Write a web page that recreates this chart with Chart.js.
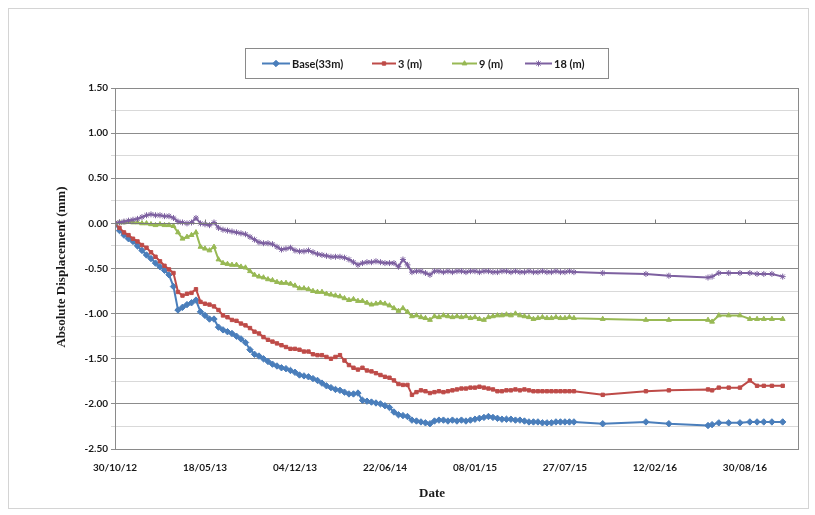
<!DOCTYPE html>
<html>
<head>
<meta charset="utf-8">
<script src="https://cdn.jsdelivr.net/npm/chart.js@4.4.1/dist/chart.umd.min.js"></script>
<style>
  html, body { margin: 0; padding: 0; background: #ffffff; }
  #wrap { position: relative; width: 815px; height: 515px; }
</style>
</head>
<body>
<div id="wrap"><canvas id="chart"></canvas></div>
<script>
// Survey start date; x positions are days elapsed since this date
const startDate = Date.UTC(2012, 9, 30);

// Reading days (offset from the start date)
const days = [
  0, 10, 20, 30, 40, 50, 60, 70, 80, 90,
  100, 110, 120, 130, 140, 150, 160, 170, 180, 190,
  200, 210, 220, 230, 240, 250, 260, 270, 280, 290,
  300, 310, 320, 330, 340, 350, 360, 370, 380, 390,
  400, 410, 420, 430, 440, 450, 460, 470, 480, 490,
  500, 510, 520, 530, 540, 550, 560, 570, 580, 590,
  600, 610, 620, 630, 640, 650, 660, 670, 680, 690,
  700, 710, 720, 730, 740, 750, 760, 770, 780, 790,
  800, 810, 820, 830, 840, 850, 860, 870, 880, 890,
  900, 910, 920, 930, 940, 950, 960, 970, 980, 990,
  1000, 1010, 1020,
  1084, 1180, 1231, 1318, 1327, 1342, 1364, 1389, 1411, 1427, 1442, 1460, 1484
];

const seriesNames = ['Base(33m)', '3 (m)', '9 (m)', '18 (m)'];

const base33 = [
  0.00, -0.08, -0.13, -0.17, -0.20, -0.25, -0.30, -0.35, -0.39, -0.44,
  -0.48, -0.52, -0.57, -0.70, -0.96, -0.93, -0.90, -0.88, -0.85, -0.98,
  -1.02, -1.06, -1.06, -1.15, -1.18, -1.20, -1.22, -1.25, -1.28, -1.32,
  -1.40, -1.45, -1.47, -1.50, -1.53, -1.56, -1.58, -1.60, -1.61, -1.63,
  -1.65, -1.68, -1.69, -1.70, -1.72, -1.74, -1.77, -1.80, -1.82, -1.84,
  -1.85, -1.87, -1.89, -1.89, -1.88, -1.96, -1.97, -1.98, -1.99, -2.00,
  -2.02, -2.04, -2.09, -2.12, -2.13, -2.14, -2.18, -2.19, -2.20, -2.21,
  -2.22, -2.19, -2.18, -2.18, -2.19, -2.18, -2.19, -2.18, -2.19, -2.18,
  -2.17, -2.16, -2.15, -2.14, -2.15, -2.16, -2.17, -2.17, -2.17, -2.18,
  -2.18, -2.19, -2.20, -2.20, -2.20, -2.21, -2.21, -2.21, -2.20, -2.20,
  -2.20, -2.20, -2.20,
  -2.22, -2.20, -2.22, -2.24, -2.23, -2.21, -2.21, -2.21, -2.20, -2.20, -2.20, -2.20, -2.20
];

const depth3 = [
  0.00, -0.05, -0.10, -0.13, -0.17, -0.20, -0.24, -0.27, -0.32, -0.37,
  -0.42, -0.47, -0.51, -0.55, -0.76, -0.80, -0.78, -0.77, -0.73, -0.87,
  -0.89, -0.90, -0.92, -0.96, -1.02, -1.04, -1.07, -1.08, -1.11, -1.13,
  -1.16, -1.20, -1.22, -1.26, -1.29, -1.31, -1.33, -1.35, -1.37, -1.39,
  -1.39, -1.40, -1.42, -1.42, -1.45, -1.46, -1.46, -1.48, -1.50, -1.48,
  -1.46, -1.52, -1.57, -1.60, -1.62, -1.60, -1.63, -1.64, -1.66, -1.68,
  -1.70, -1.71, -1.74, -1.78, -1.79, -1.79, -1.90, -1.87, -1.85, -1.86,
  -1.88, -1.87, -1.86, -1.87, -1.86, -1.85, -1.84, -1.83, -1.83, -1.82,
  -1.82, -1.81, -1.82, -1.83, -1.84, -1.86, -1.86, -1.85, -1.85, -1.84,
  -1.85, -1.84, -1.85, -1.86, -1.86, -1.86, -1.86, -1.86, -1.86, -1.86,
  -1.86, -1.86, -1.86,
  -1.90, -1.86, -1.85, -1.84, -1.85, -1.82, -1.82, -1.82, -1.74, -1.80, -1.80, -1.80, -1.80
];

const depth9 = [
  0.00, 0.01, 0.01, 0.02, 0.01, 0.01, 0.00, 0.00, -0.01, -0.02,
  -0.01, -0.02, -0.02, -0.03, -0.10, -0.17, -0.15, -0.13, -0.10, -0.26,
  -0.28, -0.30, -0.26, -0.40, -0.44, -0.45, -0.46, -0.46, -0.48, -0.49,
  -0.53, -0.57, -0.59, -0.60, -0.62, -0.63, -0.65, -0.66, -0.66, -0.67,
  -0.69, -0.72, -0.72, -0.73, -0.75, -0.76, -0.76, -0.78, -0.79, -0.80,
  -0.81, -0.83, -0.85, -0.84, -0.86, -0.86, -0.88, -0.90, -0.89, -0.88,
  -0.89, -0.91, -0.94, -0.97, -0.94, -0.98, -1.03, -1.02, -1.04, -1.05,
  -1.07, -1.03, -1.04, -1.02, -1.03, -1.04, -1.03, -1.04, -1.03, -1.05,
  -1.04, -1.06, -1.07, -1.04, -1.03, -1.02, -1.02, -1.01, -1.02, -1.00,
  -1.02, -1.03, -1.04, -1.06, -1.05, -1.04, -1.05, -1.05, -1.04, -1.05,
  -1.05, -1.04, -1.05,
  -1.06, -1.07, -1.07, -1.07, -1.09, -1.02, -1.02, -1.02, -1.06, -1.06, -1.06, -1.06, -1.06
];

const depth18 = [
  0.00, 0.01, 0.02, 0.03, 0.04, 0.05, 0.07, 0.09, 0.10, 0.09,
  0.09, 0.08, 0.08, 0.06, 0.02, 0.01, 0.00, 0.01, 0.06, 0.00,
  -0.01, -0.02, 0.01, -0.05, -0.07, -0.08, -0.09, -0.10, -0.11, -0.12,
  -0.15, -0.18, -0.21, -0.22, -0.22, -0.23, -0.26, -0.29, -0.28, -0.27,
  -0.30, -0.31, -0.31, -0.30, -0.32, -0.34, -0.35, -0.36, -0.37, -0.37,
  -0.37, -0.38, -0.40, -0.43, -0.46, -0.44, -0.43, -0.43, -0.42, -0.43,
  -0.44, -0.44, -0.44, -0.48, -0.40, -0.46, -0.54, -0.53, -0.53, -0.55,
  -0.57, -0.53, -0.53, -0.54, -0.53, -0.54, -0.53, -0.53, -0.54, -0.53,
  -0.53, -0.54, -0.53, -0.53, -0.54, -0.54, -0.53, -0.53, -0.54, -0.53,
  -0.54, -0.54, -0.53, -0.54, -0.54, -0.53, -0.54, -0.54, -0.53, -0.54,
  -0.54, -0.53, -0.54,
  -0.55, -0.56, -0.58, -0.60, -0.59, -0.55, -0.55, -0.55, -0.55, -0.56, -0.56, -0.56, -0.59
];

// Axis settings
const xTickStepDays = 200;
const xMaxDays = 1518;
const yMin = -2.5, yMax = 1.5, yStep = 0.25;

const colors = ['#4a7ebb', '#be4b48', '#98b954', '#7d60a0'];
const markers = ['rectRot', 'rect', 'triangle', 'star'];
const markerSizes = [3.2, 2.4, 2.8, 3];

function fmtDate(offset) {
  const d = new Date(startDate + offset * 86400000);
  const dd = String(d.getUTCDate()).padStart(2, '0');
  const mm = String(d.getUTCMonth() + 1).padStart(2, '0');
  const yy = String(d.getUTCFullYear() % 100).padStart(2, '0');
  return dd + '/' + mm + '/' + yy;
}

const seriesValues = [base33, depth3, depth9, depth18];
const datasets = seriesValues.map((vals, i) => ({
  label: seriesNames[i],
  data: days.map((d, k) => ({ x: d, y: vals[k] })),
  borderColor: colors[i],
  backgroundColor: colors[i],
  borderWidth: 2,
  pointStyle: markers[i],
  pointRadius: markerSizes[i],
  pointBorderWidth: 1,
  pointBorderColor: colors[i],
  pointBackgroundColor: colors[i],
  tension: 0,
  order: 3 - i
}));

// Frame, plot border, axis ticks on the zero line, legend box and axis titles
const decorations = {
  id: 'decorations',
  beforeDraw(chart) {
    const ctx = chart.ctx;
    ctx.save();
    ctx.fillStyle = '#ffffff';
    ctx.fillRect(0, 0, chart.width, chart.height);
    ctx.strokeStyle = '#d4d4d4';
    ctx.lineWidth = 1;
    ctx.strokeRect(8.5, 8.5, 800, 500);
    ctx.restore();
  },
  afterDraw(chart) {
    const ctx = chart.ctx;
    const a = chart.chartArea;
    const xs = chart.scales.x, ys = chart.scales.y;
    ctx.save();
    // plot border
    ctx.strokeStyle = '#8a8a8a';
    ctx.lineWidth = 1;
    ctx.strokeRect(Math.round(a.left) + 0.5, Math.round(a.top) + 0.5,
                   Math.round(a.right - a.left), Math.round(a.bottom - a.top));
    // horizontal axis line crossing at zero with its tick marks
    const y0 = Math.round(ys.getPixelForValue(0)) + 0.5;
    ctx.strokeStyle = '#7a7a7a';
    ctx.beginPath();
    ctx.moveTo(a.left, y0);
    ctx.lineTo(a.right, y0);
    for (let d = xTickStepDays; d <= xMaxDays; d += xTickStepDays) {
      const px = Math.round(xs.getPixelForValue(d)) + 0.5;
      ctx.moveTo(px, y0 - 4);
      ctx.lineTo(px, y0);
    }
    ctx.stroke();

    // legend
    ctx.strokeStyle = '#8a8a8a';
    ctx.lineWidth = 1;
    ctx.strokeRect(245.5, 48.5, 363, 30);
    const items = [
      { lx: 262, lw: 28, tx: 292 },
      { lx: 372, lw: 24, tx: 398 },
      { lx: 452, lw: 25, tx: 479 },
      { lx: 525, lw: 27, tx: 554 }
    ];
    const ly = 63.5;
    ctx.textBaseline = 'middle';
    ctx.textAlign = 'left';
    items.forEach((it, i) => {
      ctx.strokeStyle = colors[i];
      ctx.fillStyle = colors[i];
      ctx.lineWidth = 2;
      ctx.beginPath();
      ctx.moveTo(it.lx, ly);
      ctx.lineTo(it.lx + it.lw, ly);
      ctx.stroke();
      ctx.lineWidth = 1;
      Chart.helpers.drawPoint(ctx, {
        pointStyle: markers[i], radius: markerSizes[i], borderWidth: 1, rotation: 0
      }, it.lx + it.lw / 2, ly);
      ctx.fillStyle = '#1a1a1a';
      ctx.font = 'bold 11px Lato, "Open Sans", sans-serif';
      ctx.fillText(seriesNames[i], it.tx, ly + 0.5);
    });

    // axis titles
    ctx.fillStyle = '#1a1a1a';
    ctx.font = 'bold 13px "Liberation Serif", "DejaVu Serif", serif';
    ctx.textAlign = 'center';
    ctx.textBaseline = 'middle';
    ctx.fillText('Date', 432, 494);
    ctx.translate(62, 267);
    ctx.rotate(-Math.PI / 2);
    ctx.fillText('Absolute Displacement (mm)', 0, 0);
    ctx.restore();
  }
};

new Chart(document.getElementById('chart'), {
  type: 'line',
  data: { datasets },
  options: {
    responsive: true,
    maintainAspectRatio: false,
    animation: false,
    layout: { padding: { left: 0, top: 88, right: 17, bottom: 0 } },
    plugins: {
      legend: { display: false },
      tooltip: { enabled: false },
      title: { display: false }
    },
    scales: {
      x: {
        type: 'linear',
        min: 0,
        max: xMaxDays,
        grid: { display: false },
        border: { display: true, color: '#8a8a8a' },
        ticks: {
          stepSize: xTickStepDays,
          padding: 5,
          maxRotation: 0,
          autoSkip: false,
          color: '#1a1a1a',
          font: { family: 'Lato, "Open Sans", sans-serif', size: 10, weight: 'bold' },
          callback: (v) => fmtDate(v)
        },
        afterBuildTicks: (s) => { s.ticks = s.ticks.filter(t => t.value % xTickStepDays === 0); },
        afterFit: (s) => { s.height = 66; }
      },
      y: {
        type: 'linear',
        min: yMin,
        max: yMax,
        grid: {
          color: (c) => {
            const v = c.tick ? c.tick.value : 0;
            return Math.abs(Math.round(v * 2) - v * 2) < 1e-6 ? '#8c8c8c' : '#d9d9d9';
          },
          tickLength: 4,
          lineWidth: 1
        },
        border: { display: true, color: '#7a7a7a' },
        ticks: {
          stepSize: yStep,
          padding: 3,
          color: '#1a1a1a',
          font: { family: 'Lato, "Open Sans", sans-serif', size: 10, weight: 'bold' },
          callback: (v) => Math.abs(Math.round(v * 2) - v * 2) < 1e-6 ? Number(v).toFixed(2) : ''
        },
        afterFit: (s) => { s.width = 115; }
      }
    }
  },
  plugins: [decorations]
});
</script>
</body>
</html>
